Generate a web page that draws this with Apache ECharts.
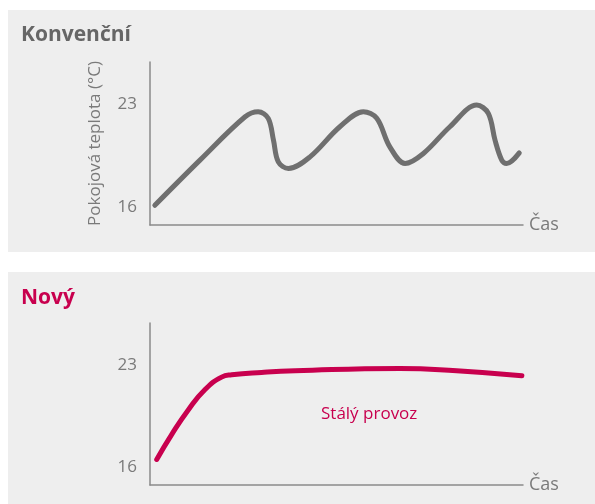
<!DOCTYPE html>
<html><head><meta charset="utf-8">
<script src="https://cdn.jsdelivr.net/npm/echarts@6/dist/echarts.min.js"></script>
<style>html,body{margin:0;padding:0;background:#fff}#c{width:595px;height:504px}</style>
</head><body><div id="c"></div>
<script>
// Konvenční (conventional) – room temperature over time
const convTime = [1.3, 13.4, 25.5, 29.0, 31.7, 33.1, 34.4, 37.1, 42.9, 50.9, 57.2, 60.8, 64.3, 68.4, 73.3, 80.4, 87.6, 90.7, 92.5, 94.3, 95.6, 99.0];
const convTemp = [16.14, 19.2, 22.14, 22.48, 22.03, 20.55, 19.08, 18.63, 19.42, 21.46, 22.48, 22.03, 20.10, 18.97, 19.65, 21.46, 22.93, 22.37, 20.55, 19.20, 18.97, 19.69];
// Nový (new) – steady operation
const newTime = [1.8, 5.8, 10.3, 14.7, 19.2, 21.9, 29.9, 38.9, 67.0, 82.2, 99.7];
const newTemp = [16.54, 18.24, 19.94, 21.30, 22.16, 22.32, 22.48, 22.59, 22.75, 22.59, 22.25];
const yTicks = [16, 23];
const titles = ['Konvenční', 'Nový'];
const xName = 'Čas';
const yName = 'Pokojová teplota (°C)';
const noteText = 'Stálý provoz';

const zip = (a, b) => a.map((v, i) => [v, b[i]]);
const FONT = '"Open Sans", "Noto Sans", sans-serif';
const GRAY = '#6f6f6f';
const RED = '#c8004e';
const AX = '#8a8a8a';
const LBL = '#7a7a7a';

function xAxis(idx) {
  return {
    gridIndex: idx, type: 'value', min: 0, max: 100,
    axisLine: {show: true, lineStyle: {color: AX, width: 1.5}},
    axisTick: {show: false}, axisLabel: {show: false}, splitLine: {show: false},
    name: xName, nameLocation: 'end', nameGap: 6,
    nameTextStyle: {color: LBL, fontSize: 18, fontFamily: FONT, verticalAlign: 'middle', padding: [2, 0, 0, 0]}
  };
}
function yAxis(idx, withName) {
  const a = {
    gridIndex: idx, type: 'value', min: 14.8, max: 25.85,
    axisLine: {show: true, lineStyle: {color: AX, width: 1.5}},
    axisTick: {show: false},
    axisLabel: {color: LBL, fontSize: 17, fontFamily: FONT, margin: 13, customValues: yTicks},
    splitLine: {show: false}
  };
  if (withName) {
    Object.assign(a, {
      name: yName, nameLocation: 'middle', nameGap: 46, nameRotate: 90,
      nameTextStyle: {color: LBL, fontSize: 17, fontFamily: FONT}
    });
  }
  return a;
}

const chart = echarts.init(document.getElementById('c'), null, {renderer: 'canvas'});
chart.setOption({
  backgroundColor: '#ffffff',
  animation: false,
  graphic: [
    {type: 'rect', z: -100, shape: {x: 8, y: 10, width: 587, height: 242}, style: {fill: '#eeeeee'}},
    {type: 'rect', z: -100, shape: {x: 8, y: 272, width: 587, height: 232}, style: {fill: '#eeeeee'}},
    {type: 'text', left: 321, top: 406, style: {text: noteText, fill: RED, font: '17px ' + FONT}}
  ],
  title: [
    {text: titles[0], left: 21, top: 25, padding: 0, textStyle: {color: '#666666', fontSize: 21, fontWeight: 'bold', fontFamily: FONT}},
    {text: titles[1], left: 21, top: 288, padding: 0, textStyle: {color: RED, fontSize: 21, fontWeight: 'bold', fontFamily: FONT}}
  ],
  grid: [
    {left: 150, top: 62, width: 373, height: 163},
    {left: 150, top: 323, width: 373, height: 162}
  ],
  xAxis: [xAxis(0), xAxis(1)],
  yAxis: [yAxis(0, true), yAxis(1, false)],
  series: [
    {type: 'line', xAxisIndex: 0, yAxisIndex: 0, data: zip(convTime, convTemp), smooth: 0.35, showSymbol: false,
     lineStyle: {color: GRAY, width: 5, cap: 'round', join: 'round'}},
    {type: 'line', xAxisIndex: 1, yAxisIndex: 1, data: zip(newTime, newTemp), smooth: 0.5, showSymbol: false,
     lineStyle: {color: RED, width: 5, cap: 'round', join: 'round'}}
  ]
});
</script></body></html>
